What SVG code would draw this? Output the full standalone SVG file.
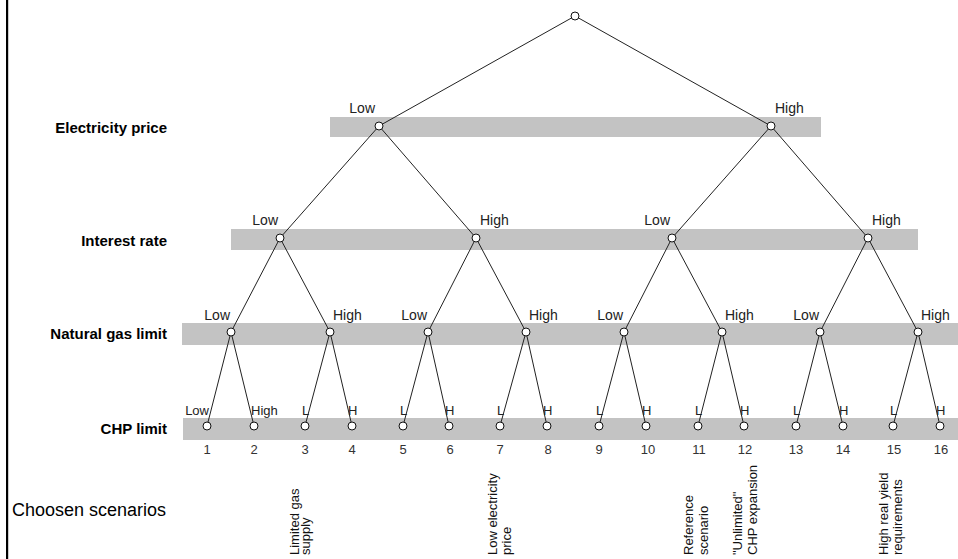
<svg xmlns="http://www.w3.org/2000/svg" width="958" height="559" viewBox="0 0 958 559">
<style>
.band{fill:#c3c3c3}
.lvl{font-family:"Liberation Sans",Arial,sans-serif;font-weight:bold;font-size:15px;fill:#000;text-anchor:end}
.lbl{font-family:"Liberation Sans",Arial,sans-serif;font-size:14px;fill:#222}
.lbl4{font-family:"Liberation Sans",Arial,sans-serif;font-size:13px;fill:#222}
.num{font-family:"Liberation Sans",Arial,sans-serif;font-size:13px;fill:#333;text-anchor:middle}
.scn{font-family:"Liberation Sans",Arial,sans-serif;font-size:13px;fill:#111}
.end{text-anchor:end}
.edge{stroke:#222;stroke-width:1;fill:none}
.node{fill:#fff;stroke:#111;stroke-width:1}
</style>
<rect x="0" y="0" width="958" height="559" fill="#fff"/>
<rect x="6" y="0" width="2.2" height="559" fill="#000"/>
<g id="bands">
<rect class="band" x="330" y="117" width="491" height="20"/>
<rect class="band" x="231" y="229" width="687" height="21"/>
<rect class="band" x="182" y="323" width="776" height="22"/>
<rect class="band" x="183" y="418" width="775" height="22"/>
</g>
<g id="level-labels">
<text class="lvl" x="167" y="133">Electricity price</text>
<text class="lvl" x="167" y="246">Interest rate</text>
<text class="lvl" x="167" y="339">Natural gas limit</text>
<text class="lvl" x="167" y="434">CHP limit</text>
<text x="12" y="516" font-family="'Liberation Sans',Arial,sans-serif" font-size="18" fill="#000">Choosen scenarios</text>
</g>
<g id="connectors" class="edge">
<line x1="575" y1="16" x2="379" y2="126"/>
<line x1="575" y1="16" x2="771" y2="126"/>
<line x1="379" y1="126" x2="280" y2="238"/>
<line x1="379" y1="126" x2="476" y2="238"/>
<line x1="771" y1="126" x2="672" y2="238"/>
<line x1="771" y1="126" x2="868" y2="238"/>
<line x1="280" y1="238" x2="231" y2="332"/>
<line x1="280" y1="238" x2="330" y2="332"/>
<line x1="476" y1="238" x2="428" y2="332"/>
<line x1="476" y1="238" x2="526" y2="332"/>
<line x1="672" y1="238" x2="624" y2="332"/>
<line x1="672" y1="238" x2="722" y2="332"/>
<line x1="868" y1="238" x2="820" y2="332"/>
<line x1="868" y1="238" x2="918" y2="332"/>
<line x1="231" y1="332" x2="207" y2="426"/>
<line x1="231" y1="332" x2="254" y2="426"/>
<line x1="330" y1="332" x2="305" y2="426"/>
<line x1="330" y1="332" x2="352" y2="426"/>
<line x1="428" y1="332" x2="403" y2="426"/>
<line x1="428" y1="332" x2="449" y2="426"/>
<line x1="526" y1="332" x2="500" y2="426"/>
<line x1="526" y1="332" x2="547" y2="426"/>
<line x1="624" y1="332" x2="599" y2="426"/>
<line x1="624" y1="332" x2="646" y2="426"/>
<line x1="722" y1="332" x2="698" y2="426"/>
<line x1="722" y1="332" x2="744" y2="426"/>
<line x1="820" y1="332" x2="796" y2="426"/>
<line x1="820" y1="332" x2="843" y2="426"/>
<line x1="918" y1="332" x2="893" y2="426"/>
<line x1="918" y1="332" x2="940" y2="426"/>
</g>
<g id="branch-labels">
<text class="lbl end" x="375" y="113">Low</text>
<text class="lbl" x="775" y="113">High</text>
<text class="lbl end" x="278" y="225">Low</text>
<text class="lbl" x="480" y="225">High</text>
<text class="lbl end" x="670" y="225">Low</text>
<text class="lbl" x="872" y="225">High</text>
<text class="lbl end" x="230" y="320">Low</text>
<text class="lbl" x="333" y="320">High</text>
<text class="lbl end" x="427" y="320">Low</text>
<text class="lbl" x="529" y="320">High</text>
<text class="lbl end" x="623" y="320">Low</text>
<text class="lbl" x="725" y="320">High</text>
<text class="lbl end" x="819" y="320">Low</text>
<text class="lbl" x="921" y="320">High</text>
<text class="lbl4 end" x="209" y="415">Low</text>
<text class="lbl4" x="251" y="415">High</text>
<text class="lbl4" x="302" y="415">L</text>
<text class="lbl4" x="348" y="415">H</text>
<text class="lbl4" x="400" y="415">L</text>
<text class="lbl4" x="445" y="415">H</text>
<text class="lbl4" x="497" y="415">L</text>
<text class="lbl4" x="543" y="415">H</text>
<text class="lbl4" x="596" y="415">L</text>
<text class="lbl4" x="642" y="415">H</text>
<text class="lbl4" x="695" y="415">L</text>
<text class="lbl4" x="740" y="415">H</text>
<text class="lbl4" x="793" y="415">L</text>
<text class="lbl4" x="839" y="415">H</text>
<text class="lbl4" x="890" y="415">L</text>
<text class="lbl4" x="936" y="415">H</text>
</g>
<g id="n0"><circle class="node" cx="575" cy="16" r="4"/></g>
<g id="n-elec-low"><circle class="node" cx="379" cy="126" r="4"/></g>
<g id="n-elec-high"><circle class="node" cx="771" cy="126" r="4"/></g>
<g id="n-int-1"><circle class="node" cx="280" cy="238" r="4"/></g>
<g id="n-int-2"><circle class="node" cx="476" cy="238" r="4"/></g>
<g id="n-int-3"><circle class="node" cx="672" cy="238" r="4"/></g>
<g id="n-int-4"><circle class="node" cx="868" cy="238" r="4"/></g>
<g id="n-gas-1"><circle class="node" cx="231" cy="332" r="4"/></g>
<g id="n-gas-2"><circle class="node" cx="330" cy="332" r="4"/></g>
<g id="n-gas-3"><circle class="node" cx="428" cy="332" r="4"/></g>
<g id="n-gas-4"><circle class="node" cx="526" cy="332" r="4"/></g>
<g id="n-gas-5"><circle class="node" cx="624" cy="332" r="4"/></g>
<g id="n-gas-6"><circle class="node" cx="722" cy="332" r="4"/></g>
<g id="n-gas-7"><circle class="node" cx="820" cy="332" r="4"/></g>
<g id="n-gas-8"><circle class="node" cx="918" cy="332" r="4"/></g>
<g id="s1"><circle class="node" cx="207" cy="426" r="4"/><text class="num" x="207" y="454">1</text></g>
<g id="s2"><circle class="node" cx="254" cy="426" r="4"/><text class="num" x="254" y="454">2</text></g>
<g id="s3"><circle class="node" cx="305" cy="426" r="4"/><text class="num" x="305" y="454">3</text></g>
<g id="s4"><circle class="node" cx="352" cy="426" r="4"/><text class="num" x="352" y="454">4</text></g>
<g id="s5"><circle class="node" cx="403" cy="426" r="4"/><text class="num" x="403" y="454">5</text></g>
<g id="s6"><circle class="node" cx="449" cy="426" r="4"/><text class="num" x="450" y="454">6</text></g>
<g id="s7"><circle class="node" cx="500" cy="426" r="4"/><text class="num" x="500" y="454">7</text></g>
<g id="s8"><circle class="node" cx="547" cy="426" r="4"/><text class="num" x="548" y="454">8</text></g>
<g id="s9"><circle class="node" cx="599" cy="426" r="4"/><text class="num" x="599" y="454">9</text></g>
<g id="s10"><circle class="node" cx="646" cy="426" r="4"/><text class="num" x="648" y="454">10</text></g>
<g id="s11"><circle class="node" cx="698" cy="426" r="4"/><text class="num" x="699" y="454">11</text></g>
<g id="s12"><circle class="node" cx="744" cy="426" r="4"/><text class="num" x="745" y="454">12</text></g>
<g id="s13"><circle class="node" cx="796" cy="426" r="4"/><text class="num" x="796" y="454">13</text></g>
<g id="s14"><circle class="node" cx="843" cy="426" r="4"/><text class="num" x="843" y="454">14</text></g>
<g id="s15"><circle class="node" cx="893" cy="426" r="4"/><text class="num" x="894" y="454">15</text></g>
<g id="s16"><circle class="node" cx="940" cy="426" r="4"/><text class="num" x="941" y="454">16</text></g>
<g id="scenarios">
<text class="scn" transform="translate(299,555) rotate(-90)">Limited gas</text>
<text class="scn" transform="translate(310,555) rotate(-90)">supply</text>
<text class="scn" transform="translate(497,555) rotate(-90)">Low electricity</text>
<text class="scn" transform="translate(511,555) rotate(-90)">price</text>
<text class="scn" transform="translate(693,555) rotate(-90)">Reference</text>
<text class="scn" transform="translate(708,555) rotate(-90)">scenario</text>
<text class="scn" transform="translate(742,555) rotate(-90)">"Unlimited"</text>
<text class="scn" transform="translate(757,555) rotate(-90)">CHP expansion</text>
<text class="scn" transform="translate(888,555) rotate(-90)">High real yield</text>
<text class="scn" transform="translate(902,555) rotate(-90)">requirements</text>
</g>
</svg>
